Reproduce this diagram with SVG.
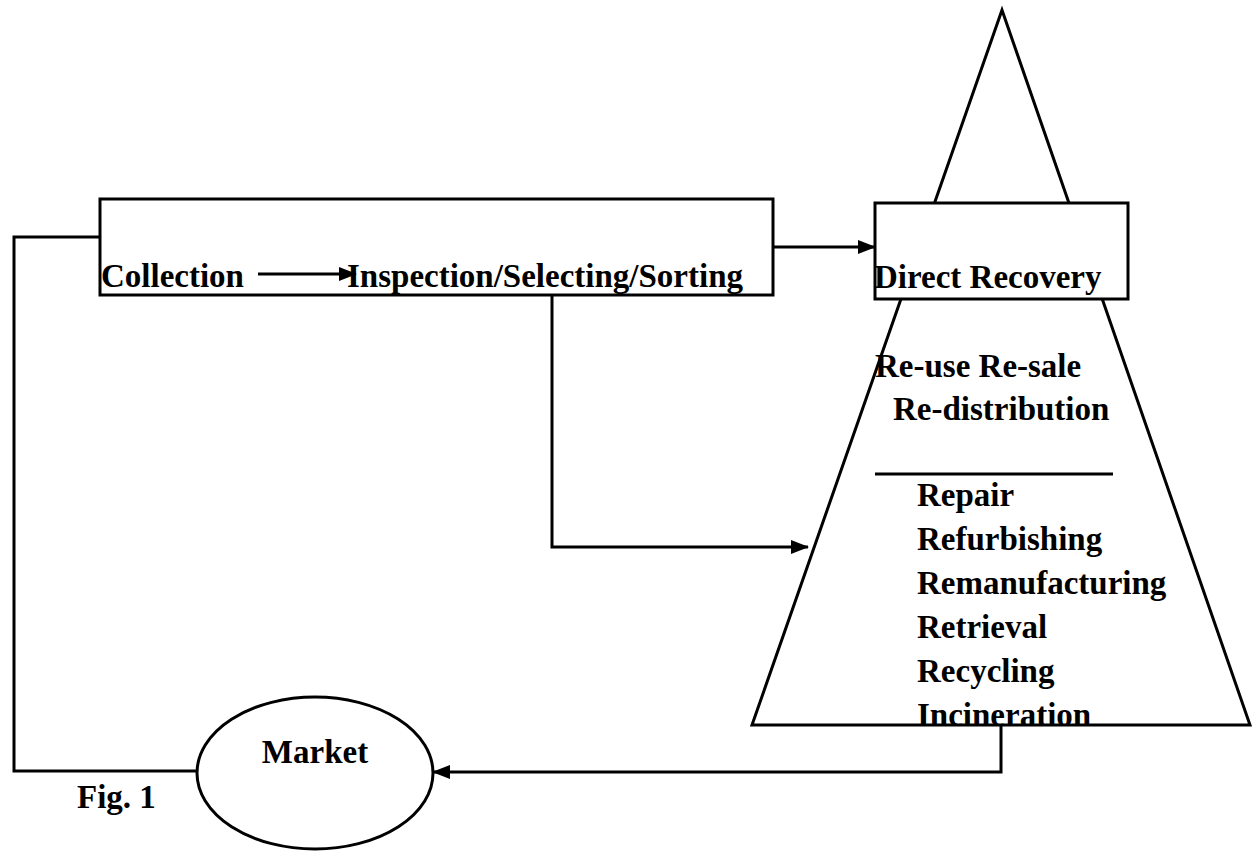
<svg xmlns="http://www.w3.org/2000/svg" width="1252" height="851" viewBox="0 0 1252 851">
<style>
.t{font-family:"Liberation Serif","Times New Roman",serif;font-weight:bold;font-size:33px;fill:#000}
.s{fill:none;stroke:#000;stroke-width:3}
.b{fill:#fff;stroke:#000;stroke-width:3}
</style>
<defs>
<marker id="ah" markerWidth="18" markerHeight="14" refX="17" refY="7" orient="auto" markerUnits="userSpaceOnUse">
<path d="M0,0 L18,7 L0,14 Z" fill="#000"/>
</marker>
</defs>
<rect width="1252" height="851" fill="#fff"/>
<g id="pyramid">
<polygon class="b" points="1002,10 752,725 1250,725"/>
<line class="s" x1="875" y1="474" x2="1113" y2="474"/>
<text class="t" x="875" y="377">Re-use Re-sale</text>
<text class="t" x="893" y="420">Re-distribution</text>
<text class="t" x="917" y="506">Repair</text>
<text class="t" x="917" y="550">Refurbishing</text>
<text class="t" x="917" y="594">Remanufacturing</text>
<text class="t" x="917" y="638">Retrieval</text>
<text class="t" x="917" y="682">Recycling</text>
<text class="t" x="917" y="726">Incineration</text>
</g>
<g id="direct-recovery">
<rect class="b" x="875" y="203" width="253" height="96"/>
<text class="t" x="874" y="288">Direct Recovery</text>
</g>
<g id="collection-box">
<rect class="b" x="100" y="199" width="673" height="96"/>
<text class="t" x="101" y="287">Collection</text>
<text class="t" x="347" y="287">Inspection/Selecting/Sorting</text>
</g>
<g id="market">
<ellipse class="b" cx="315" cy="773" rx="118" ry="76"/>
<text class="t" x="315" y="763" text-anchor="middle">Market</text>
</g>
<g id="caption">
<text class="t" x="77" y="808">Fig. 1</text>
</g>
<g id="connectors">
<line class="s" x1="258" y1="274" x2="356" y2="274" marker-end="url(#ah)"/>
<line class="s" x1="773" y1="247" x2="875" y2="247" marker-end="url(#ah)"/>
<polyline class="s" points="552,295 552,547 808,547" marker-end="url(#ah)"/>
<polyline class="s" points="1001,725 1001,772 433,772" marker-end="url(#ah)"/>
<polyline class="s" points="100,237 14,237 14,771 197,771"/>
</g>
</svg>
